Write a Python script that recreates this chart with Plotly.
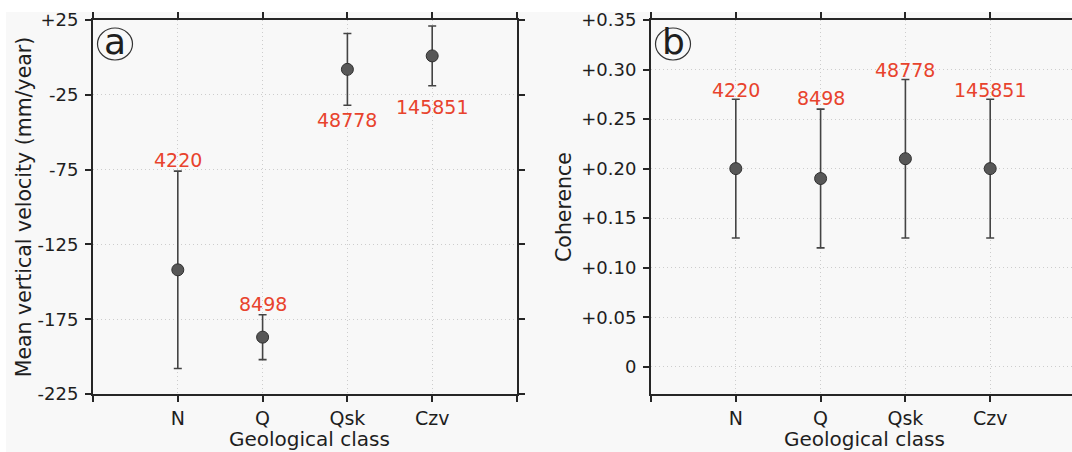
import plotly.graph_objects as go

# ---------------- data ----------------
categories = ["N", "Q", "Qsk", "Czv"]
cat_pos = [1, 2, 3, 4]
counts = ["4220", "8498", "48778", "145851"]

velocity_mean = [-142, -187, -8, 1]
velocity_err = [66, 15, 24, 20]
velocity_label_side = ["top", "top", "bottom", "bottom"]

coherence_mean = [0.20, 0.19, 0.21, 0.20]
coherence_err = [0.07, 0.07, 0.08, 0.07]
coherence_label_side = ["top", "top", "top", "top"]

velocity_ticks = [25, -25, -75, -125, -175, -225]
velocity_ticktext = ["+25", "-25", "-75", "-125", "-175", "-225"]
coherence_ticks = [0, 0.05, 0.10, 0.15, 0.20, 0.25, 0.30, 0.35]
coherence_ticktext = ["0", "+0.05", "+0.10", "+0.15", "+0.20", "+0.25", "+0.30", "+0.35"]
x_ticks = [0, 1, 2, 3, 4, 5]
x_ticktext = [""] + categories + [""]
x_title = "Geological class"

# label offsets from the error-bar end (pixels, styling only)
velocity_label_shift = [-1, -1, -3, -9]
coherence_label_shift = [-3, -1, -3, -3]

# ---------------- style ----------------
W, H = 1072, 452
FONT = "DejaVu Sans"
AX = "#262626"
GRID = "#cdcdcd"
RED = "#e8432d"
BG = "#f8f8f8"
TXT = "#1e1e1e"

fig = go.Figure()


def add_panel(means, errs, sides, shifts, xref, yref):
    fig.add_trace(go.Scatter(
        x=cat_pos, y=means, mode="markers",
        marker=dict(size=12, color="#575757", line=dict(color="#303030", width=1)),
        error_y=dict(type="data", array=errs, symmetric=True, color="#444444",
                     thickness=1.6, width=4),
        xaxis=xref, yaxis=yref, showlegend=False, hoverinfo="skip",
    ))
    for xv, m, e, s, sh, txt in zip(cat_pos, means, errs, sides, shifts, counts):
        yv = m + e if s == "top" else m - e
        fig.add_annotation(
            x=xv, y=yv, xref=xref, yref=yref, text=txt, showarrow=False,
            xanchor="center", yanchor="bottom" if s == "top" else "top",
            yshift=sh, borderpad=0,
            font=dict(family=FONT, size=19, color=RED),
        )


add_panel(velocity_mean, velocity_err, velocity_label_side, velocity_label_shift, "x", "y")
add_panel(coherence_mean, coherence_err, coherence_label_side, coherence_label_shift, "x2", "y2")

ydom = [1 - 394 / H, 1 - 20 / H]
common_x = dict(
    tickvals=x_ticks, ticktext=x_ticktext, showline=True, linecolor=AX, linewidth=2,
    mirror="ticks", ticks="outside", ticklen=6, tickwidth=1.5, tickcolor=AX,
    showgrid=True, gridcolor=GRID, griddash="1px,3px", gridwidth=1, zeroline=False,
    automargin=False,
    tickfont=dict(family=FONT, size=19, color=TXT),
)
common_y = dict(
    showline=True, linecolor=AX, linewidth=2, ticks="outside", ticklen=6, tickwidth=1.5,
    tickcolor=AX, showgrid=True, gridcolor=GRID, griddash="1px,3px", gridwidth=1, zeroline=False,
    automargin=False, ticklabelstandoff=3,
    tickfont=dict(family=FONT, size=18, color=TXT),
)

fig.update_layout(
    width=W, height=H, autosize=False,
    margin=dict(l=0, r=0, t=0, b=0),
    paper_bgcolor=BG, plot_bgcolor=BG,
    font=dict(family=FONT, color=TXT),
    xaxis=dict(domain=[93 / W, 517 / W], range=[0, 5], anchor="y", **common_x),
    yaxis=dict(domain=ydom, range=[-225, 25], anchor="x", tickvals=velocity_ticks,
               ticktext=velocity_ticktext, mirror="ticks",
               title=dict(text="Mean vertical velocity (mm/year)",
                          font=dict(family=FONT, size=20.5, color=TXT), standoff=0),
               **common_y),
    xaxis2=dict(domain=[651 / W, 1.0], range=[0, 5 * 421 / 424], anchor="y2", **common_x),
    yaxis2=dict(domain=ydom, range=[-0.0275, 0.35], anchor="x2", tickvals=coherence_ticks,
                ticktext=coherence_ticktext, mirror=False,
                title=dict(text="Coherence", font=dict(family=FONT, size=20.5, color=TXT), standoff=4),
                **common_y),
)

# x-axis titles at the bottom edge
for cx in (309, 864):
    fig.add_annotation(text=x_title, xref="paper", yref="paper", x=cx / W, y=0,
                       xanchor="center", yanchor="bottom", showarrow=False, borderpad=0,
                       yshift=0, font=dict(family=FONT, size=20, color=TXT))

# white strips at the top and left edges of the picture
fig.add_shape(type="rect", xref="paper", yref="paper", x0=0, x1=1, y0=1 - 12 / H, y1=1,
              fillcolor="white", line=dict(width=0), layer="below")
fig.add_shape(type="rect", xref="paper", yref="paper", x0=0, x1=6 / W, y0=0, y1=1,
              fillcolor="white", line=dict(width=0), layer="below")

# circled panel letters
for letter, cx, cy in [("a", 115, 44), ("b", 673, 44)]:
    fig.add_shape(type="circle", xref="paper", yref="paper",
                  xsizemode="pixel", ysizemode="pixel",
                  xanchor=cx / W, yanchor=1 - cy / H,
                  x0=-17.5, x1=17.5, y0=-16, y1=16,
                  line=dict(color="#333", width=1.2), fillcolor="rgba(0,0,0,0)")
    fig.add_annotation(text=letter, xref="paper", yref="paper", x=cx / W, y=1 - cy / H,
                       xanchor="center", yanchor="middle", showarrow=False, yshift=3,
                       font=dict(family=FONT, size=36, color=TXT))

fig.write_html("out.html")
